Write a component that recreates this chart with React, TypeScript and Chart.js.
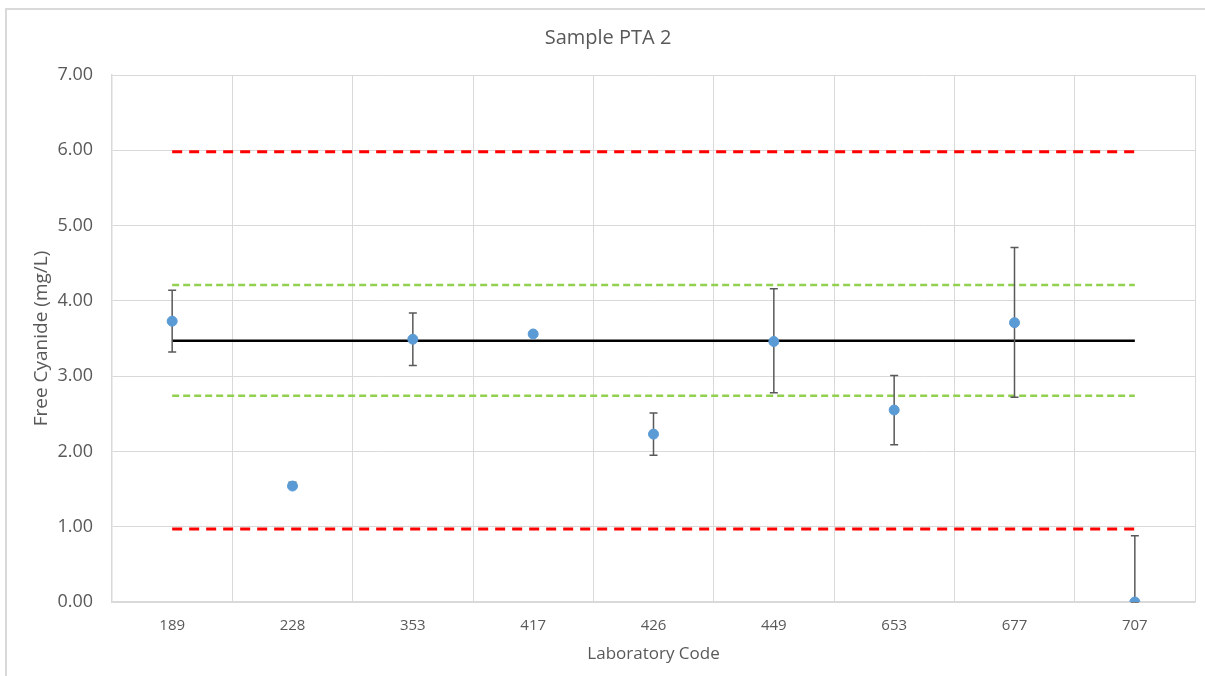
import React, { useEffect, useRef } from "react";
import { Chart, registerables } from "chart.js";

Chart.register(...registerables);

const labCodes = ["189", "228", "353", "417", "426", "449", "653", "677", "707"];
const results = [3.73, 1.54, 3.49, 3.56, 2.23, 3.46, 2.55, 3.71, 0.0];
const errLow: (number | null)[] = [3.32, 1.51, 3.14, null, 1.95, 2.78, 2.09, 2.72, 0.0];
const errHigh: (number | null)[] = [4.14, 1.59, 3.84, null, 2.51, 4.16, 3.01, 4.71, 0.88];
const assignedValue = 3.47;
const upperWarning = 4.21;
const lowerWarning = 2.74;
const upperAction = 5.98;
const lowerAction = 0.97;
const yTicks = [0, 1, 2, 3, 4, 5, 6, 7];

const FONT = "'Open Sans', 'Liberation Sans', sans-serif";
const TEXT = "#595959";
const GRID = "#d9d9d9";

const errorBarPlugin = {
  id: "errorBars",
  beforeDatasetDraw(chart: any, args: any) {
    if (args.index !== 0) return;
    const ctx = chart.ctx;
    const x = chart.scales.x;
    const y = chart.scales.y;
    ctx.save();
    ctx.strokeStyle = "#595959";
    ctx.lineWidth = 1.5;
    const cap = 4;
    labCodes.forEach((_, i) => {
      const lo = errLow[i];
      const hi = errHigh[i];
      if (lo === null || hi === null) return;
      const px = x.getPixelForValue(i);
      const pLo = y.getPixelForValue(lo);
      const pHi = y.getPixelForValue(hi);
      ctx.beginPath();
      ctx.moveTo(px, pLo);
      ctx.lineTo(px, pHi);
      ctx.moveTo(px - cap, pLo);
      ctx.lineTo(px + cap, pLo);
      ctx.moveTo(px - cap, pHi);
      ctx.lineTo(px + cap, pHi);
      ctx.stroke();
    });
    ctx.restore();
  },
};

const constLine = (v: number) => labCodes.map(() => v);

export default function App() {
  const ref = useRef<HTMLCanvasElement>(null);
  useEffect(() => {
    if (!ref.current) return;
    const chart = new Chart(ref.current, {
      type: "line",
      data: {
        labels: labCodes,
        datasets: [
          {
            label: "Result",
            data: results,
            showLine: false,
            pointRadius: 5,
            pointHoverRadius: 5,
            pointBackgroundColor: "#5b9bd5",
            pointBorderColor: "#5b9bd5",
            borderColor: "#5b9bd5",
          },
          {
            label: "Assigned",
            data: constLine(assignedValue),
            borderColor: "#000000",
            borderWidth: 2.5,
            pointRadius: 0,
          },
          {
            label: "Upper warning",
            data: constLine(upperWarning),
            borderColor: "#92d050",
            borderWidth: 2.5,
            borderDash: [7, 4],
            pointRadius: 0,
          },
          {
            label: "Lower warning",
            data: constLine(lowerWarning),
            borderColor: "#92d050",
            borderWidth: 2.5,
            borderDash: [7, 4],
            pointRadius: 0,
          },
          {
            label: "Upper action",
            data: constLine(upperAction),
            borderColor: "#ff0000",
            borderWidth: 3,
            borderDash: [10, 7],
            pointRadius: 0,
          },
          {
            label: "Lower action",
            data: constLine(lowerAction),
            borderColor: "#ff0000",
            borderWidth: 3,
            borderDash: [10, 7],
            pointRadius: 0,
          },
        ],
      },
      options: {
        animation: false,
        responsive: false,
        maintainAspectRatio: false,
        layout: { padding: { left: 21, right: 10, top: 0, bottom: 0 } },
        plugins: {
          legend: { display: false },
          tooltip: { enabled: false },
          title: {
            display: true,
            text: "Sample PTA 2",
            color: TEXT,
            font: { family: FONT, size: 20, weight: "normal" },
            padding: { top: 26, bottom: 25 },
          },
        },
        scales: {
          x: {
            offset: true,
            grid: { offset: true, color: GRID, drawTicks: false, lineWidth: 1 },
            border: { color: GRID, width: 1.5 },
            ticks: { color: TEXT, font: { family: FONT, size: 15 }, padding: 15 },
            title: {
              display: true,
              text: "Laboratory Code",
              color: TEXT,
              font: { family: FONT, size: 17 },
              padding: { top: 0, bottom: 12 },
            },
            afterFit: (s: any) => {
              s.height = 74;
            },
          },
          y: {
            min: 0,
            max: 7,
            afterBuildTicks: (s: any) => {
              s.ticks = yTicks.map((v) => ({ value: v }));
            },
            grid: { color: GRID, drawTicks: false, lineWidth: 1 },
            border: { color: GRID, width: 1.5 },
            ticks: {
              color: TEXT,
              font: { family: FONT, size: 18 },
              padding: 19,
              callback: (v: any) => Number(v).toFixed(2),
            },
            title: {
              display: true,
              text: "Free Cyanide (mg/L)",
              color: TEXT,
              font: { family: FONT, size: 19 },
              padding: { top: 9, bottom: 0 },
            },
            afterFit: (s: any) => {
              s.width = 91;
            },
          },
        },
      },
      plugins: [errorBarPlugin],
    });
    return () => chart.destroy();
  }, []);

  return (
    <div
      style={{
        position: "fixed",
        left: 0,
        top: 0,
        width: 1205,
        height: 676,
        overflow: "hidden",
        background: "#ffffff",
      }}
    >
      <div
        style={{
          position: "absolute",
          left: 5,
          top: 8,
          width: 1260,
          height: 720,
          border: "2px solid #d9d9d9",
          boxSizing: "border-box",
        }}
      />
      <canvas
        ref={ref}
        width={1205}
        height={676}
        style={{ position: "absolute", left: 0, top: 0, width: 1205, height: 676 }}
      />
    </div>
  );
}
